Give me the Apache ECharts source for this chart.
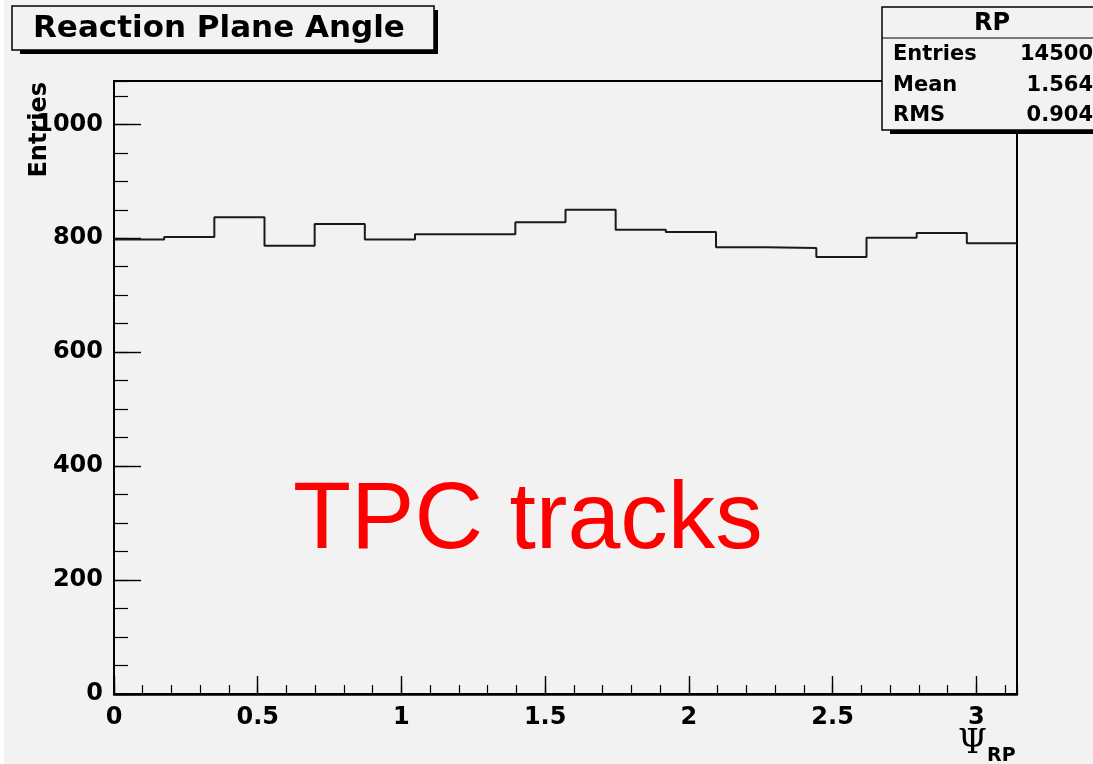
<!DOCTYPE html>
<html>
<head>
<meta charset="utf-8">
<title>Reaction Plane Angle</title>
<script src="https://cdn.jsdelivr.net/npm/echarts@6/dist/echarts.min.js"></script>
<style>
  html, body { margin: 0; padding: 0; background: #f2f2f2; }
  #chart { width: 1093px; height: 764px; }
</style>
</head>
<body>
<div id="chart"></div>
<script>
// Histogram of the reaction plane angle, 18 equal bins over [0, pi]
const binCounts = [798, 802, 837, 787, 825, 798, 807, 807, 828, 850, 815, 811, 784, 783, 767, 801, 809, 791];
const xRange = [0, Math.PI];
const yRange = [0, 1076];
const xLabelStep = 0.5;
const xMinorStep = 0.1;
const yLabelStep = 200;
const yMinorStep = 50;

// Statistics box
const statTitle = 'RP';
const statNames = ['Entries', 'Mean', 'RMS'];
const statValues = ['14500', '1.564', '0.904'];

const chartTitle = 'Reaction Plane Angle';
const yTitle = 'Entries';
const xTitleSymbol = '\u03A8';
const xTitleSub = 'RP';
const overlayText = 'TPC tracks';

const boldFont = 'DejaVu Sans';

// Step outline: one point per lower bin edge, plus the closing upper edge
const binWidth = (xRange[1] - xRange[0]) / binCounts.length;
const outline = binCounts.map((c, i) => [xRange[0] + i * binWidth, c]);
outline.push([xRange[1], binCounts[binCounts.length - 1]]);

const chart = echarts.init(document.getElementById('chart'), null, { renderer: 'canvas' });

const labelStyle = {
  color: '#000',
  fontFamily: boldFont,
  fontWeight: 'bold',
  fontSize: 24
};

const graphics = [
  // thin white strip on the left edge
  { type: 'rect', shape: { x: 0, y: 0, width: 4, height: 764 }, style: { fill: '#ffffff' }, z: 90 },

  // title box with drop shadow
  { type: 'rect', shape: { x: 20, y: 10, width: 418, height: 44 }, style: { fill: '#000' }, z: 100 },
  { type: 'rect', shape: { x: 12, y: 6, width: 422, height: 44 }, style: { fill: '#f2f2f2', stroke: '#000', lineWidth: 1.5 }, z: 101 },
  { type: 'text', x: 33, y: 29, style: { text: chartTitle, fill: '#000', font: 'bold 31px "' + boldFont + '"', textAlign: 'left', textVerticalAlign: 'middle' }, z: 102 },

  // statistics box with drop shadow
  { type: 'rect', shape: { x: 890, y: 11, width: 220, height: 123 }, style: { fill: '#000' }, z: 100 },
  { type: 'rect', shape: { x: 882, y: 7, width: 220, height: 123 }, style: { fill: '#f2f2f2', stroke: '#000', lineWidth: 1.5 }, z: 101 },
  { type: 'line', shape: { x1: 882, y1: 38, x2: 1102, y2: 38 }, style: { stroke: '#000', lineWidth: 1.2 }, z: 102 },
  { type: 'text', x: 992, y: 24, style: { text: statTitle, fill: '#000', font: 'bold 24px "' + boldFont + '"', textAlign: 'center', textVerticalAlign: 'middle' }, z: 102 },

  // y axis title, rotated
  { type: 'text', x: 40, y: 82, rotation: Math.PI / 2, style: { text: yTitle, fill: '#000', font: 'bold 24px "' + boldFont + '"', textAlign: 'right', textVerticalAlign: 'middle' }, z: 102 },

  // x axis title
  { type: 'text', x: 958, y: 744, style: { text: xTitleSymbol, fill: '#000', font: '33px "DejaVu Serif"', textAlign: 'left', textVerticalAlign: 'middle' }, z: 102 },
  { type: 'text', x: 987, y: 756, style: { text: xTitleSub, fill: '#000', font: 'bold 19px "' + boldFont + '"', textAlign: 'left', textVerticalAlign: 'middle' }, z: 102 },

  // red annotation
  { type: 'text', x: 293, y: 522, style: { text: overlayText, fill: '#ff0000', font: '95px "Liberation Sans"', textAlign: 'left', textVerticalAlign: 'middle' }, z: 102 }
];

const statRowY = [55, 86, 116];
statNames.forEach((name, i) => {
  graphics.push({ type: 'text', x: 893, y: statRowY[i], style: { text: name, fill: '#000', font: 'bold 21px "' + boldFont + '"', textAlign: 'left', textVerticalAlign: 'middle' }, z: 102 });
  graphics.push({ type: 'text', x: 1093, y: statRowY[i], style: { text: statValues[i], fill: '#000', font: 'bold 21px "' + boldFont + '"', textAlign: 'right', textVerticalAlign: 'middle' }, z: 102 });
});

chart.setOption({
  animation: false,
  backgroundColor: '#f2f2f2',
  grid: {
    left: 114, top: 81, width: 903, height: 613,
    show: true, borderColor: '#000', borderWidth: 2, backgroundColor: 'transparent'
  },
  xAxis: [
    {
      type: 'value', min: xRange[0], max: xRange[1], interval: xLabelStep, position: 'bottom',
      axisLine: { show: true, onZero: false, lineStyle: { color: '#000', width: 2.5 } },
      axisTick: { show: true, inside: true, length: 18, lineStyle: { color: '#000', width: 1.4 } },
      axisLabel: Object.assign({ margin: 12, showMaxLabel: false, showMinLabel: true, formatter: v => String(v) }, labelStyle),
      splitLine: { show: false }
    },
    {
      type: 'value', min: xRange[0], max: xRange[1], interval: xMinorStep, position: 'bottom',
      axisLine: { show: false },
      axisTick: { show: true, inside: true, length: 9, lineStyle: { color: '#000', width: 1.2 } },
      axisLabel: { show: false },
      splitLine: { show: false }
    }
  ],
  yAxis: [
    {
      type: 'value', min: yRange[0], max: yRange[1], interval: yLabelStep, position: 'left',
      axisLine: { show: true, onZero: false, lineStyle: { color: '#000', width: 2 } },
      axisTick: { show: true, inside: true, length: 27, lineStyle: { color: '#000', width: 1.4 } },
      axisLabel: Object.assign({ margin: 11, showMaxLabel: false, formatter: v => String(v) }, labelStyle),
      splitLine: { show: false }
    },
    {
      type: 'value', min: yRange[0], max: yRange[1], interval: yMinorStep, position: 'left',
      axisLine: { show: false },
      axisTick: { show: true, inside: true, length: 14, lineStyle: { color: '#000', width: 1.2 } },
      axisLabel: { show: false },
      splitLine: { show: false }
    }
  ],
  series: [{
    type: 'line',
    xAxisIndex: 0,
    yAxisIndex: 0,
    step: 'end',
    symbol: 'none',
    data: outline,
    lineStyle: { color: '#1a1a1a', width: 2 },
    z: 3
  }],
  graphic: graphics
});
</script>
</body>
</html>
